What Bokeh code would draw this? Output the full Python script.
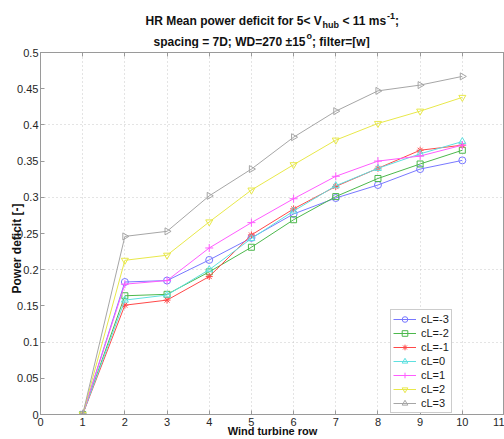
import numpy as np
from bokeh.plotting import figure
from bokeh.layouts import column
from bokeh.models import Label, FixedTicker, LinearAxis, CustomJSTickFormatter, Range1d
from bokeh.embed import file_html
from bokeh.resources import INLINE

rows = [1, 2, 3, 4, 5, 6, 7, 8, 9, 10]
series_names = ["cL=-3", "cL=-2", "cL=-1", "cL=0", "cL=1", "cL=2", "cL=3"]
cl_m3 = [0, 0.183, 0.185, 0.2135, 0.244, 0.277, 0.299, 0.317, 0.339, 0.351]
cl_m2 = [0, 0.164, 0.166, 0.197, 0.231, 0.269, 0.301, 0.326, 0.346, 0.365]
cl_m1 = [0, 0.151, 0.158, 0.1905, 0.248, 0.284, 0.315, 0.340, 0.365, 0.372]
cl_0 = [0, 0.158, 0.165, 0.200, 0.243, 0.281, 0.316, 0.340, 0.360, 0.377]
cl_p1 = [0, 0.180, 0.185, 0.230, 0.265, 0.298, 0.329, 0.350, 0.357, 0.372]
cl_p2 = [0, 0.213, 0.220, 0.266, 0.310, 0.345, 0.379, 0.402, 0.419, 0.438]
cl_p3 = [0, 0.246, 0.253, 0.302, 0.339, 0.383, 0.419, 0.447, 0.455, 0.467]
series_values = [cl_m3, cl_m2, cl_m1, cl_0, cl_p1, cl_p2, cl_p3]

x_ticks = [0, 1, 2, 3, 4, 5, 6, 7, 8, 9, 10, 11]
x_tick_labels = ["0", "1", "2", "3", "4", "5", "6", "7", "8", "9", "10", "11"]
y_ticks = [0, 0.05, 0.1, 0.15, 0.2, 0.25, 0.3, 0.35, 0.4, 0.45, 0.5]
y_tick_labels = ["0", "0.05", "0.1", "0.15", "0.2", "0.25", "0.3", "0.35", "0.4", "0.45", "0.5"]
y_grid_ticks = [0.1, 0.2, 0.3, 0.4]

title_line1 = "HR Mean power deficit for 5< V"
title_sub = "hub"
title_line1b = "< 11 ms"
title_sup = "-1"
title_end = ";"
title_line2 = "spacing = 7D; WD=270 \u00b115"
title_sup2 = "o"
title_line2b = "; filter=[w]"
x_label = "Wind turbine row"
y_label = "Power deficit [-]"

colors = ["#7878ff", "#4cb84c", "#ff4848", "#5fe0e0", "#ff5cff", "#e8e84a", "#a6a6a6"]
markers = ["circle", "square", "asterisk", "triangle", "cross", "inverted_triangle", "triangle"]
angles = [0, 0, 0, 0, 0, 0, -np.pi / 2]
sizes = [7, 6, 7, 7, 8, 7, 7]

FONT = "Liberation Sans"
TITLE_H = 48

# ---- title strip (its frame covers the whole strip) ----
t = figure(width=504, height=TITLE_H, x_range=Range1d(0, 504), y_range=Range1d(TITLE_H, 0),
           output_backend="svg", toolbar_location=None, x_axis_location=None, y_axis_location=None,
           min_border=0, min_border_left=0, min_border_right=0, min_border_top=0, min_border_bottom=0)
t.title = None
t.outline_line_color = None
t.xgrid.visible = False
t.ygrid.visible = False
t.background_fill_color = "white"
t.border_fill_color = "white"


def tlab(text, x, y, size="12px"):
    t.add_layout(Label(x=x, y=y, x_units="canvas", y_units="canvas", text=text, text_font=FONT,
                       text_font_size=size, text_font_style="bold", text_color="#111111",
                       text_baseline="alphabetic", text_align="left"))


tlab(title_line1, 145, 20)
tlab(title_sub, 322, 24, size="9px")
tlab(title_line1b, 342, 20)
tlab(title_sup, 386.5, 15, size="9px")
tlab(title_end, 394.5, 20)
tlab(title_line2, 153, 41.5)
tlab(title_sup2, 306, 35.5, size="9px")
tlab(title_line2b, 311.5, 41.5)

# ---- main plot ----
p = figure(width=504, height=439 - TITLE_H, x_range=Range1d(0, 11), y_range=Range1d(0, 0.5),
           output_backend="svg", toolbar_location=None,
           min_border_left=39, min_border_right=0, min_border_top=4, min_border_bottom=24)
p.background_fill_color = "white"
p.border_fill_color = "white"
p.outline_line_color = "#9a9a9a"

for ax in (p.xaxis[0], p.yaxis[0]):
    ax.major_tick_in = 4
    ax.major_tick_out = 0
    ax.minor_tick_in = 0
    ax.minor_tick_out = 0
    ax.axis_line_color = "#9a9a9a"
    ax.major_tick_line_color = "#9a9a9a"
    ax.major_label_text_font = FONT
    ax.major_label_text_font_size = "11px"
    ax.major_label_text_color = "#262626"

p.xaxis.ticker = FixedTicker(ticks=x_ticks)
p.xaxis.major_label_overrides = dict(zip(x_ticks, x_tick_labels))
p.xaxis.major_label_standoff = 3
p.xaxis.axis_label = x_label
p.xaxis.axis_label_standoff = -4
p.xaxis.axis_label_text_font = FONT
p.xaxis.axis_label_text_font_size = "11px"
p.xaxis.axis_label_text_font_style = "bold"
p.xaxis.axis_label_text_color = "#111111"

p.yaxis.ticker = FixedTicker(ticks=y_ticks)
p.yaxis.major_label_overrides = dict(zip(y_ticks, y_tick_labels))
p.yaxis.major_label_standoff = 2

top = LinearAxis(ticker=FixedTicker(ticks=x_ticks), formatter=CustomJSTickFormatter(code="return ''"),
                 major_tick_in=4, major_tick_out=0, minor_tick_in=0, minor_tick_out=0,
                 axis_line_color="#9a9a9a", major_tick_line_color="#9a9a9a", major_label_standoff=0,
                 major_label_text_font_size="1px")
p.add_layout(top, "above")

p.xgrid.ticker = FixedTicker(ticks=x_ticks)
p.ygrid.ticker = FixedTicker(ticks=y_grid_ticks)
for g in (p.xgrid[0], p.ygrid[0]):
    g.grid_line_color = "#c8c8c8"
    g.grid_line_dash = "1 3"
    g.grid_line_width = 1

for name, vals, c, m, a, s in zip(series_names, series_values, colors, markers, angles, sizes):
    p.line(rows, vals, line_color=c, line_width=1, legend_label=name)
    p.scatter(rows, vals, marker=m, size=s, angle=a, line_color=c, fill_color=None,
              line_width=1, legend_label=name)

lg = p.legend[0]
lg.location = (350, 1)
lg.padding = 2
lg.spacing = 0
lg.margin = 0
lg.glyph_width = 23
lg.glyph_height = 14
lg.label_height = 14
lg.label_standoff = 5
lg.label_text_font = FONT
lg.label_text_font_size = "11px"
lg.label_text_color = "#1a1a1a"
lg.border_line_color = "#9a9a9a"
lg.background_fill_color = "white"
lg.background_fill_alpha = 1

# y label placed in the left panel (canvas pixels of the main plot), overlapping tick labels like the original
p.add_layout(Label(x=16, y=248 - TITLE_H, x_units="canvas", y_units="canvas", text=y_label,
                   text_font=FONT, text_font_size="12px", text_font_style="bold",
                   text_color="#111111", text_align="center", text_baseline="middle",
                   angle=np.pi / 2), "left")

layout = column(t, p, spacing=0)
open("out.html", "w").write(file_html(layout, INLINE))
